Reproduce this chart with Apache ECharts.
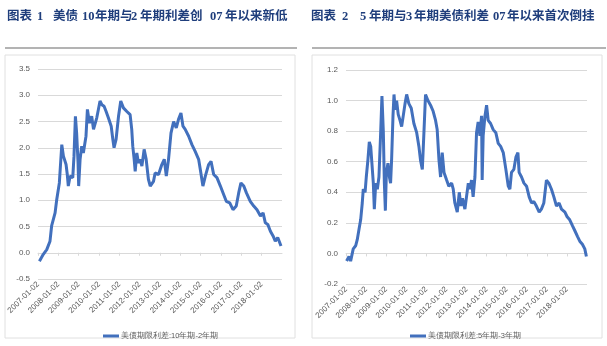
<!DOCTYPE html>
<html>
<head>
<meta charset="utf-8">
<script src="https://cdn.jsdelivr.net/npm/echarts@6/dist/echarts.min.js"></script>
<style>
html,body{margin:0;padding:0;background:#fff;}
#c{width:607px;height:346px;}
</style>
</head>
<body>
<div id="c"></div>
<script>
// ---- data ----
// title pieces: [text, left x]
const title1Parts = [['图表', 7], ['1', 37], ['美债', 53], ['10', 82], ['年期与', 95], ['2', 131], ['年期利差创', 140], ['07', 210], ['年以来新低', 225]];
const title2Parts = [['图表', 311], ['2', 342], ['5', 360], ['年期与', 369], ['3', 406], ['年期美债利差', 414], ['07', 493], ['年以来首次倒挂', 507]];
const seriesName1 = '美债期限利差:10年期-2年期';
const seriesName2 = '美债期限利差:5年期-3年期';
const tickLabels = ['2007-01-02','2008-01-02','2009-01-02','2010-01-02','2011-01-02','2012-01-02',
  '2013-01-02','2014-01-02','2015-01-02','2016-01-02','2017-01-02','2018-01-02'];

const years10y2y = [2007.07,2007.26,2007.43,2007.59,2007.67,2007.84,2007.92,2008.05,2008.17,2008.25,
  2008.38,2008.44,2008.49,2008.58,2008.71,2008.77,2008.84,2008.90,2008.97,2009.00,
  2009.07,2009.15,2009.23,2009.36,2009.43,2009.53,2009.64,2009.73,2009.89,2009.97,
  2010.05,2010.14,2010.25,2010.35,2010.46,2010.60,2010.68,2010.74,2010.84,2010.96,
  2011.07,2011.20,2011.37,2011.53,2011.61,2011.66,2011.73,2011.78,2011.86,2011.94,
  2012.02,2012.11,2012.22,2012.32,2012.43,2012.52,2012.68,2012.76,2012.93,2013.09,
  2013.21,2013.31,2013.42,2013.54,2013.67,2013.80,2013.91,2014.03,2014.13,2014.24,
  2014.41,2014.57,2014.73,2014.90,2015.01,2015.11,2015.23,2015.39,2015.51,2015.64,
  2015.80,2015.97,2016.13,2016.26,2016.43,2016.59,2016.75,2016.87,2016.98,2017.12,
  2017.25,2017.44,2017.61,2017.77,2017.94,2018.07,2018.18,2018.30,2018.43,2018.56,
  2018.67,2018.79,2018.89,2018.95];
const spread10y2y = [-0.16,-0.03,0.06,0.22,0.51,0.76,1.01,1.33,2.06,1.84,
  1.68,1.49,1.27,1.46,1.43,1.84,2.60,2.28,1.71,1.27,
  1.78,2.03,1.90,2.22,2.73,2.47,2.60,2.35,2.57,2.73,
  2.89,2.82,2.79,2.69,2.57,2.41,2.16,2.00,2.16,2.60,
  2.89,2.76,2.69,2.63,2.35,2.03,1.78,1.55,1.90,1.71,
  1.78,1.65,1.97,1.78,1.40,1.27,1.36,1.52,1.49,1.68,
  1.78,1.46,1.78,2.28,2.50,2.38,2.54,2.66,2.41,2.35,
  2.22,2.06,1.93,1.78,1.52,1.27,1.46,1.68,1.74,1.49,
  1.43,1.27,1.11,0.98,0.95,0.82,0.89,1.14,1.33,1.27,
  1.14,0.98,0.89,0.82,0.70,0.76,0.57,0.54,0.41,0.32,
  0.22,0.29,0.19,0.13];

const years5y3y = [2007.03,2007.15,2007.23,2007.36,2007.48,2007.56,2007.65,2007.73,2007.81,2007.86,
  2007.95,2008.01,2008.09,2008.16,2008.23,2008.29,2008.36,2008.41,2008.48,2008.56,
  2008.64,2008.72,2008.79,2008.86,2008.91,2008.96,2009.01,2009.09,2009.16,2009.22,
  2009.27,2009.34,2009.39,2009.45,2009.52,2009.60,2009.69,2009.77,2009.85,2009.94,
  2010.02,2010.13,2010.25,2010.38,2010.52,2010.63,2010.71,2010.80,2010.88,2010.96,
  2011.08,2011.21,2011.34,2011.46,2011.54,2011.63,2011.71,2011.79,2011.88,2012.01,
  2012.12,2012.26,2012.34,2012.42,2012.54,2012.64,2012.72,2012.80,2012.92,2013.00,
  2013.09,2013.17,2013.25,2013.33,2013.42,2013.50,2013.58,2013.67,2013.75,2013.78,
  2013.83,2013.92,2014.00,2014.08,2014.20,2014.33,2014.46,2014.58,2014.70,2014.83,
  2014.96,2015.08,2015.16,2015.24,2015.36,2015.46,2015.56,2015.62,2015.74,2015.86,
  2015.99,2016.12,2016.24,2016.35,2016.48,2016.62,2016.73,2016.85,2016.98,2017.10,
  2017.23,2017.35,2017.48,2017.61,2017.73,2017.90,2018.01,2018.14,2018.28,2018.39,
  2018.53,2018.64,2018.77,2018.89,2018.97];
const spread5y3y = [-0.05,-0.02,-0.05,0.03,0.05,0.09,0.16,0.22,0.33,0.42,
  0.40,0.50,0.61,0.73,0.70,0.59,0.46,0.29,0.46,0.42,
  0.50,0.77,1.03,0.79,0.46,0.28,0.53,0.59,0.50,0.46,
  0.61,0.90,1.04,0.94,1.00,0.91,0.87,0.83,0.90,0.98,
  1.04,0.98,0.95,0.85,0.79,0.70,0.61,0.55,0.79,1.04,
  1.00,0.97,0.93,0.87,0.81,0.61,0.50,0.66,0.53,0.48,
  0.44,0.46,0.42,0.33,0.27,0.40,0.31,0.36,0.29,0.37,
  0.46,0.42,0.48,0.37,0.50,0.79,0.86,0.77,0.90,0.48,
  0.77,0.90,0.97,0.87,0.85,0.81,0.79,0.72,0.70,0.66,
  0.55,0.44,0.42,0.53,0.55,0.63,0.66,0.53,0.50,0.46,
  0.44,0.37,0.33,0.34,0.31,0.27,0.29,0.33,0.48,0.46,
  0.42,0.37,0.31,0.33,0.29,0.27,0.24,0.22,0.18,0.15,
  0.11,0.08,0.06,0.03,-0.02];

// ---- chart ----
const lineColor = '#4270bd';
const gridColor = '#d9d9d9';
const labelColor = '#595959';
const titleColor = '#1f3e7c';
const titleFont = '"Liberation Serif", "Noto Sans CJK SC", serif';

function pairs(xs, ys) { return xs.map((x, i) => [x, ys[i]]); }

function titleTexts(parts) {
  return parts.map(p => ({
    type: 'text', left: p[1], top: 11,
    style: { text: p[0], font: 'bold 12.5px ' + titleFont, fill: titleColor }
  }));
}

function xAxisCfg(gridIndex) {
  return {
    type: 'value', gridIndex: gridIndex, min: 2007, max: 2019, interval: 1,
    axisLine: { onZero: true, lineStyle: { color: gridColor, width: 1 } },
    axisTick: { show: true, length: 3, lineStyle: { color: gridColor } },
    splitLine: { show: false },
    axisLabel: {
      rotate: 45, fontSize: 8, color: labelColor, margin: 4, showMaxLabel: false,
      fontFamily: 'Liberation Sans',
      formatter: v => tickLabels[Math.round(v) - 2007] || ''
    }
  };
}
function yAxisCfg(gridIndex, min, max, interval) {
  return {
    type: 'value', gridIndex: gridIndex, min: min, max: max, interval: interval,
    axisLine: { show: false }, axisTick: { show: false },
    splitLine: { lineStyle: { color: gridColor, width: 1 } },
    axisLabel: { fontSize: 8, color: labelColor, margin: 8, fontFamily: 'Liberation Sans',
      formatter: v => v.toFixed(1) }
  };
}

const chart = echarts.init(document.getElementById('c'), null, { renderer: 'canvas' });
chart.setOption({
  animation: false,
  backgroundColor: '#ffffff',
  graphic: [
    ...titleTexts(title1Parts),
    ...titleTexts(title2Parts),
    { type: 'line', shape: { x1: 5, y1: 48, x2: 297, y2: 48 }, style: { stroke: '#9a9a9a', lineWidth: 1.5 } },
    { type: 'line', shape: { x1: 312, y1: 48, x2: 606, y2: 48 }, style: { stroke: '#9a9a9a', lineWidth: 1.5 } },
    { type: 'rect', shape: { x: 5, y: 55, width: 290, height: 283 }, style: { fill: 'none', stroke: '#e0e0e0', lineWidth: 1 }, z: -1 },
    { type: 'rect', shape: { x: 312, y: 55, width: 290, height: 283 }, style: { fill: 'none', stroke: '#e0e0e0', lineWidth: 1 }, z: -1 }
  ],
  legend: [
    { data: [seriesName1], left: 98, top: 327, icon: 'rect', itemWidth: 16, itemHeight: 3, itemGap: 2,
      textStyle: { fontSize: 7.5, color: labelColor, padding: [0, 0, 0, -3] } },
    { data: [seriesName2], left: 405, top: 327, icon: 'rect', itemWidth: 16, itemHeight: 3, itemGap: 2,
      textStyle: { fontSize: 7.5, color: labelColor, padding: [0, 0, 0, -3] } }
  ],
  grid: [
    { left: 38, width: 244, top: 69, height: 210 },
    { left: 346, width: 241, top: 70, height: 214 }
  ],
  xAxis: [xAxisCfg(0), xAxisCfg(1)],
  yAxis: [yAxisCfg(0, -0.5, 3.5, 0.5), yAxisCfg(1, -0.2, 1.2, 0.2)],
  series: [
    { name: seriesName1, type: 'line', xAxisIndex: 0, yAxisIndex: 0, data: pairs(years10y2y, spread10y2y),
      showSymbol: false, lineStyle: { color: lineColor, width: 3 }, itemStyle: { color: lineColor } },
    { name: seriesName2, type: 'line', xAxisIndex: 1, yAxisIndex: 1, data: pairs(years5y3y, spread5y3y),
      showSymbol: false, lineStyle: { color: lineColor, width: 3 }, itemStyle: { color: lineColor } }
  ]
});
</script>
</body>
</html>
